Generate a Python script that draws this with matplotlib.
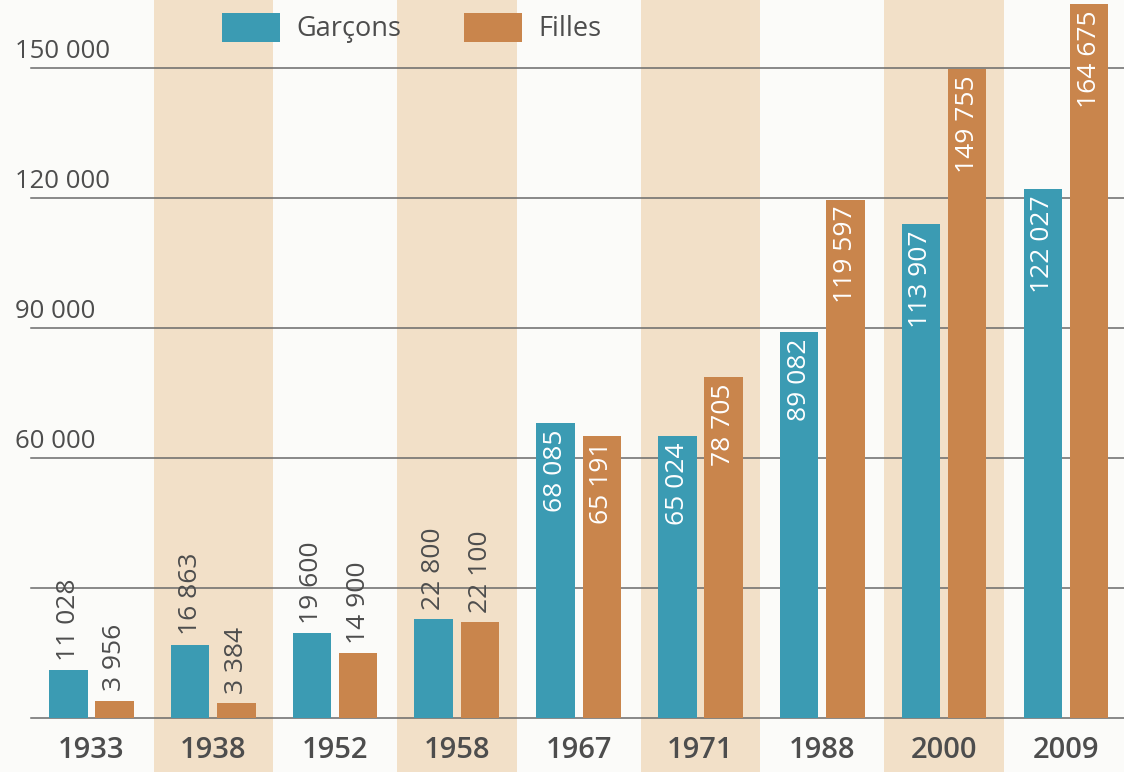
import matplotlib
matplotlib.use("Agg")
import matplotlib.pyplot as plt
from matplotlib.patches import Patch
from matplotlib.transforms import blended_transform_factory

years = ["1933", "1938", "1952", "1958", "1967", "1971", "1988", "2000", "2009"]
garcons = [11028, 16863, 19600, 22800, 68085, 65024, 89082, 113907, 122027]
filles = [3956, 3384, 14900, 22100, 65191, 78705, 119597, 149755, 164675]
grid_values = [0, 30000, 60000, 90000, 120000, 150000]
labeled_grid = [60000, 90000, 120000, 150000]
shaded = ["1938", "1958", "1971", "2000"]

BLUE = "#3b9bb3"
ORANGE = "#c9854c"
BAND = "#f2e0c8"
TEXT = "#4d4d4d"
GRID = "#6a6a6a"

plt.rcParams["font.family"] = ["Open Sans", "DejaVu Sans"]

def fmt(v):
    return f"{v:,}".replace(",", " ")

fig = plt.figure(figsize=(11.24, 7.72), dpi=100)
fig.patch.set_facecolor("#fbfbf9")
ax = fig.add_axes([0, 0, 1, 1])
ax.set_facecolor("#fbfbf9")
ax.set_xlim(-0.751, 8.477)
ax.set_ylim(-12460, 165700)
ax.axis("off")

x = list(range(len(years)))
w = 0.316
off = 0.19

for i, y in enumerate(years):
    if y in shaded:
        ax.axvspan(i - 0.49, i + 0.49, color=BAND, zorder=0, lw=0)

for g in grid_values:
    ax.axhline(g, xmin=0.028, xmax=1.0, color=GRID, lw=1.1, zorder=1)

tr = blended_transform_factory(ax.transAxes, ax.transData)
for g in labeled_grid:
    ax.text(0.013, g + 2400, fmt(g), transform=tr, ha="left", va="baseline",
            fontsize=18.5, color=TEXT)

ax.bar([i - off for i in x], garcons, width=w, color=BLUE, zorder=2, lw=0)
ax.bar([i + off for i in x], filles, width=w, color=ORANGE, zorder=2, lw=0)

def label(xpos, v):
    if v > 40000:
        ax.text(xpos, v - 1400, fmt(v), rotation=90, ha="center", va="top",
                color="white", fontsize=19, zorder=3)
    else:
        ax.text(xpos, v + 2200, fmt(v), rotation=90, ha="center", va="bottom",
                color=TEXT, fontsize=19, zorder=3)

for i in x:
    label(i - off, garcons[i])
    label(i + off, filles[i])

for i, y in enumerate(years):
    ax.text(i, -7400, y, ha="center", va="center", fontsize=21,
            fontweight="semibold", color=TEXT)

handles = [Patch(facecolor=BLUE, edgecolor="none", label="Garçons"),
           Patch(facecolor=ORANGE, edgecolor="none", label="Filles")]
leg = ax.legend(handles=handles, loc="upper left",
                bbox_to_anchor=(222 / 1124, 1 - 13 / 772),
                ncol=2, frameon=False, fontsize=19.5, handlelength=2.15,
                handleheight=1.25, handletextpad=0.6, columnspacing=2.3,
                borderaxespad=0.0, borderpad=0.0)
for t in leg.get_texts():
    t.set_color(TEXT)

fig.savefig("out.png", dpi=100, facecolor=fig.get_facecolor())
